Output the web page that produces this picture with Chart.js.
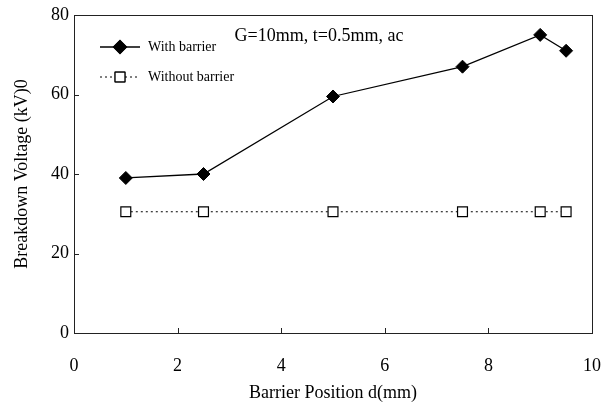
<!DOCTYPE html>
<html>
<head>
<meta charset="utf-8">
<script src="https://cdn.jsdelivr.net/npm/chart.js@4.4.1/dist/chart.umd.min.js"></script>
<style>
  html, body { margin: 0; padding: 0; background: #fff; }
  #wrap { width: 611px; height: 405px; }
</style>
</head>
<body>
<div id="wrap"><canvas id="chart"></canvas></div>
<script>
// barrier position (mm)
var positions = [1, 2.5, 5, 7.5, 9, 9.5];
var withBarrier = [39, 40, 59.5, 67, 75, 71];
var withoutBarrier = [30.5, 30.5, 30.5, 30.5, 30.5, 30.5];
var seriesNames = ["With barrier", "Without barrier"];
var chartTitle = "G=10mm, t=0.5mm, ac";
var xTitle = "Barrier Position d(mm)";
var yTitle = "Breakdown Voltage (kV)0";

var serif = "'Liberation Serif', 'Times New Roman', serif";

function pts(xs, ys) {
    return xs.map(function (x, i) { return { x: x, y: ys[i] }; });
}

// box around plot, inner tick marks, title and legend inside the plot
var decor = {
    id: 'decor',
    afterDraw: function (chart) {
        var ctx = chart.ctx, a = chart.chartArea;
        var xs = chart.scales.x, ys = chart.scales.y;
        ctx.save();
        ctx.strokeStyle = '#222';
        ctx.lineWidth = 1;
        ctx.strokeRect(a.left + 0.5, a.top + 0.5, a.right - a.left, a.bottom - a.top);
        ctx.beginPath();
        xs.ticks.forEach(function (t) {
            var px = Math.round(xs.getPixelForValue(t.value)) + 0.5;
            ctx.moveTo(px, a.bottom);
            ctx.lineTo(px, a.bottom - 5);
        });
        ys.ticks.forEach(function (t) {
            var py = Math.round(ys.getPixelForValue(t.value)) + 0.5;
            ctx.moveTo(a.left, py);
            ctx.lineTo(a.left + 5, py);
        });
        ctx.stroke();

        ctx.fillStyle = '#000';
        ctx.font = '18px ' + serif;
        ctx.textAlign = 'center';
        ctx.textBaseline = 'middle';
        ctx.fillText(chartTitle, 319, 36);

        // legend
        ctx.font = '14px ' + serif;
        ctx.textAlign = 'left';
        chart.data.datasets.forEach(function (ds, i) {
            var y = 47 + i * 30;
            ctx.beginPath();
            ctx.setLineDash(ds.borderDash || []);
            ctx.strokeStyle = ds.borderColor;
            ctx.lineWidth = ds.borderWidth;
            ctx.moveTo(100, y);
            ctx.lineTo(140, y);
            ctx.stroke();
            ctx.setLineDash([]);
            Chart.helpers.drawPoint(ctx, {
                pointStyle: ds.pointStyle,
                radius: ds.pointRadius,
                borderWidth: ds.pointBorderWidth,
                rotation: 0
            }, 120, y);
            ctx.fillStyle = ds.pointBackgroundColor;
            ctx.strokeStyle = ds.pointBorderColor;
            ctx.lineWidth = ds.pointBorderWidth;
            ctx.fill();
            ctx.stroke();
            ctx.fillStyle = '#000';
            ctx.fillText(seriesNames[i], 148, y);
        });
        ctx.restore();
    }
};

new Chart(document.getElementById('chart').getContext('2d'), {
    type: 'scatter',
    data: {
        datasets: [{
            label: seriesNames[0],
            data: pts(positions, withBarrier),
            showLine: true,
            borderColor: '#000',
            borderWidth: 1.3,
            pointStyle: 'rectRot',
            pointRadius: 6.5,
            pointBackgroundColor: '#000',
            pointBorderColor: '#000',
            pointBorderWidth: 1
        }, {
            label: seriesNames[1],
            data: pts(positions, withoutBarrier),
            showLine: true,
            borderColor: '#000',
            borderWidth: 1,
            borderDash: [2, 3],
            pointStyle: 'rect',
            pointRadius: 7,
            pointBackgroundColor: '#fff',
            pointBorderColor: '#000',
            pointBorderWidth: 1.2
        }]
    },
    options: {
        responsive: true,
        maintainAspectRatio: false,
        animation: false,
        layout: { padding: { left: 0, right: 19, top: 15, bottom: 0 } },
        plugins: {
            legend: { display: false },
            tooltip: { enabled: false }
        },
        scales: {
            x: {
                type: 'linear',
                min: 0, max: 10,
                ticks: { stepSize: 2, padding: 22, color: '#000', font: { family: serif, size: 18 } },
                grid: { display: false, drawTicks: false },
                border: { display: false },
                title: { display: true, text: xTitle, color: '#000', font: { family: serif, size: 18 }, padding: { top: 0, bottom: 1 } },
                afterFit: function (s) { s.height = 72; s.paddingLeft = 0; s.paddingRight = 0; }
            },
            y: {
                min: 0, max: 80,
                ticks: { stepSize: 20, padding: 5, color: '#000', font: { family: serif, size: 18 } },
                grid: { display: false, drawTicks: false },
                border: { display: false },
                title: { display: true, text: yTitle, color: '#000', font: { family: serif, size: 18 }, padding: { top: 11, bottom: 0 } },
                afterFit: function (s) { s.width = 74; s.paddingTop = 0; s.paddingBottom = 0; }
            }
        }
    },
    plugins: [decor]
});
</script>
</body>
</html>
